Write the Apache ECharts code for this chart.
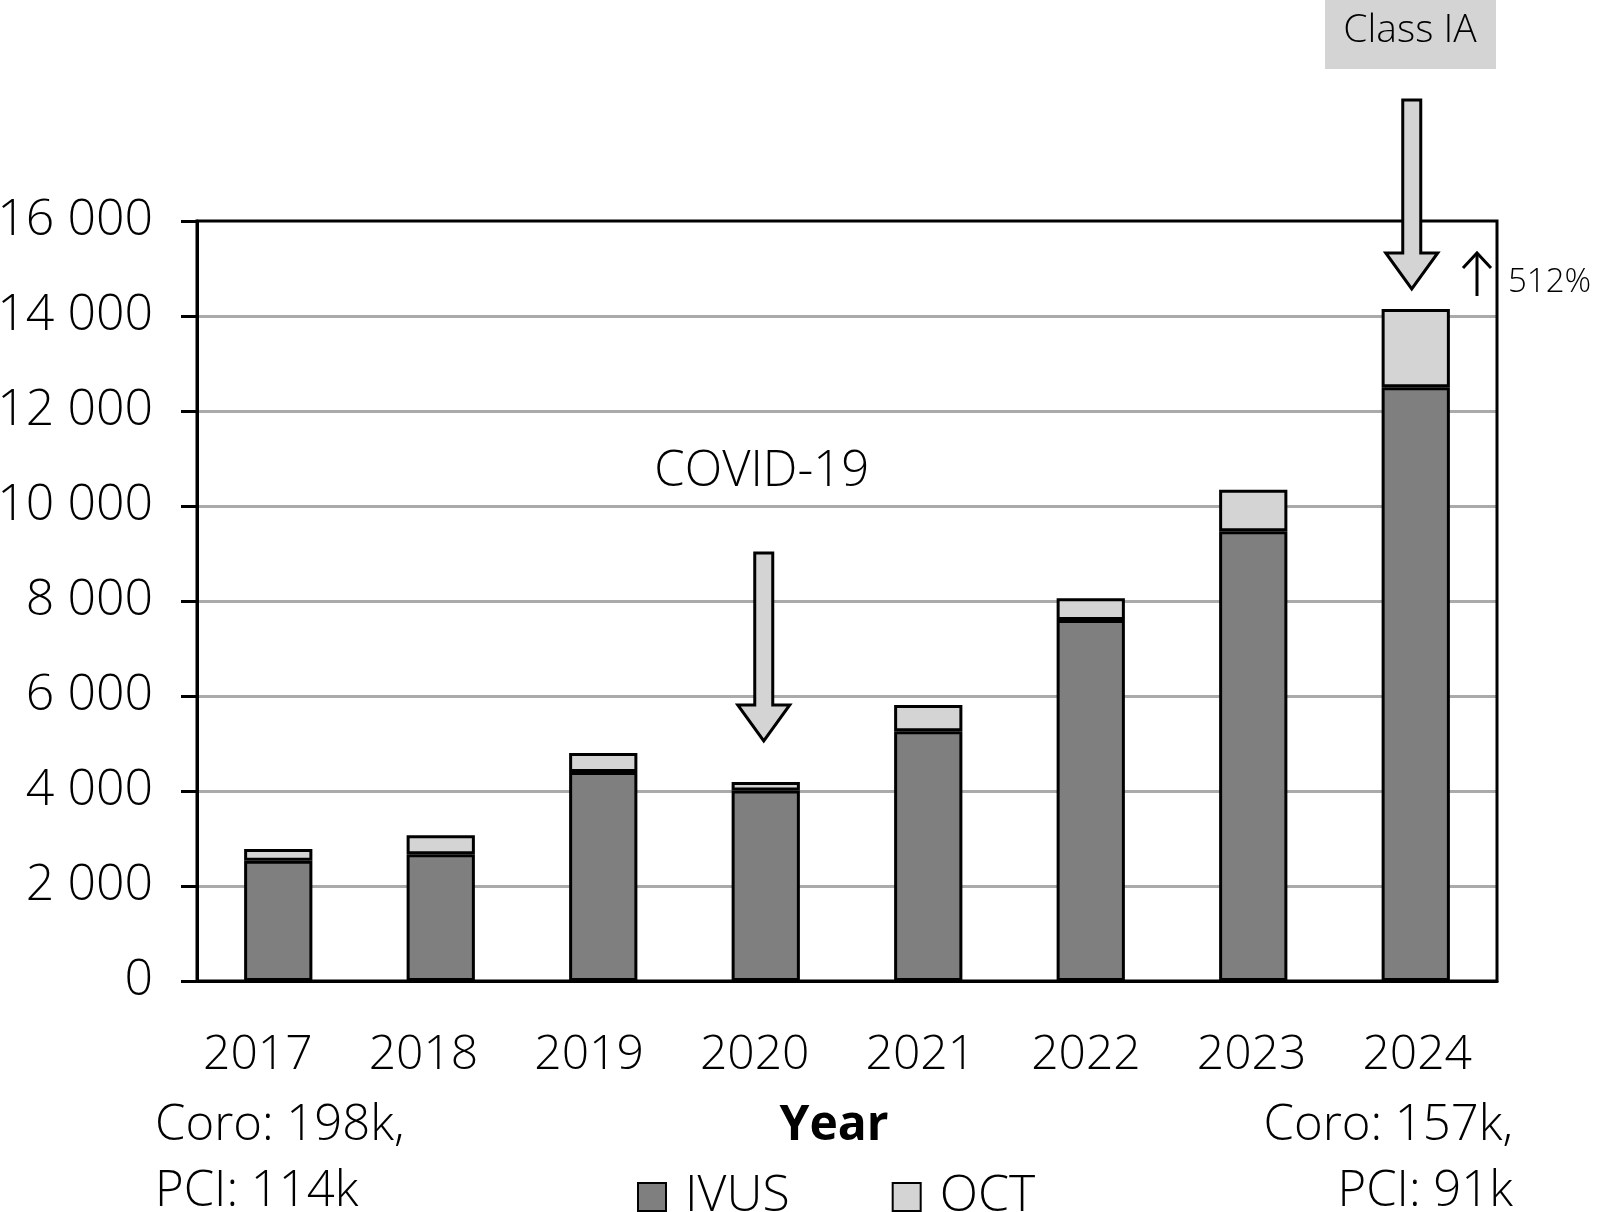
<!DOCTYPE html>
<html><head><meta charset="utf-8">
<script src="https://cdn.jsdelivr.net/npm/echarts@6/dist/echarts.min.js"></script>
<style>html,body{margin:0;padding:0;background:#fff}#c{width:1598px;height:1212px}</style>
</head><body><div id="c"></div>
<script>
const years = ['2017','2018','2019','2020','2021','2022','2023','2024'];
const ivus = [2530, 2670, 4400, 4010, 5260, 7600, 9470, 12500];
const oct = [250, 400, 400, 180, 550, 460, 870, 1650];
const yTicks = [0, 2000, 4000, 6000, 8000, 10000, 12000, 14000, 16000];
const FONT = 'Open Sans';
const chart = echarts.init(document.getElementById('c'));
const fmt = v => v >= 1000 ? Math.floor(v/1000) + ' ' + String(v % 1000).padStart(3,'0') : String(v);
const txt = {fontFamily: FONT, fontWeight: 300, color: '#000'};
chart.setOption({
  animation: false,
  grid: [
    {left: 197, right: 101, top: 221, bottom: 231, show: true, borderColor: '#000', borderWidth: 3, outerBoundsMode: 'none', containLabel: false, z: 3},
    {left: 175, right: 98, top: 221, bottom: 231, outerBoundsMode: 'none', containLabel: false}
  ],
  legend: {
    data: ['IVUS', 'OCT'], left: 632, top: 1167, itemWidth: 28, itemHeight: 28, itemGap: 102, icon: 'rect',
    textStyle: Object.assign({fontSize: 50, lineHeight: 50, padding: [0,0,0,14]}, txt)
  },
  xAxis: [{
    type: 'category', data: years, gridIndex: 0,
    axisLine: {lineStyle: {color: '#000', width: 3}},
    axisTick: {show: false},
    axisLabel: {show: false}
  }, {
    type: 'category', data: years, gridIndex: 1,
    axisLine: {show: false}, axisTick: {show: false}, splitLine: {show: false},
    axisLabel: Object.assign({fontSize: 48, margin: 50}, txt)
  }],
  yAxis: [{
    type: 'value', min: 0, max: 16000, interval: 2000, gridIndex: 0,
    axisLine: {show: true, lineStyle: {color: '#000', width: 3}},
    axisTick: {show: true, length: 16, lineStyle: {color: '#000', width: 3}},
    splitLine: {showMaxLine: false, lineStyle: {color: '#aaaaaa', width: 3}},
    axisLabel: Object.assign({fontSize: 50, margin: 44, formatter: fmt}, txt)
  }, {
    type: 'value', min: 0, max: 16000, gridIndex: 1, show: false
  }],
  series: [
    {name: 'IVUS', type: 'bar', stack: 'a', data: ivus, barWidth: '42%',
     itemStyle: {color: '#7f7f7f', borderColor: '#000', borderWidth: 3}},
    {name: 'OCT', type: 'bar', stack: 'a', data: oct, barWidth: '42%',
     itemStyle: {color: '#d4d4d4', borderColor: '#000', borderWidth: 3}}
  ]
});

function downArrow(cx, yTop, yTip, shaftW, headW, headH) {
  const s = shaftW/2, h = headW/2;
  return {type: 'polygon', shape: {points: [
    [cx - s, yTop], [cx + s, yTop], [cx + s, yTip - headH], [cx + h, yTip - headH],
    [cx, yTip], [cx - h, yTip - headH], [cx - s, yTip - headH]
  ]}, style: {fill: '#d4d4d4', stroke: '#000', lineWidth: 3}, z: 10};
}
const totals = ivus.map((v, i) => v + oct[i]);
const p2020 = chart.convertToPixel({seriesIndex: 0}, [3, totals[3]]);
const p2024 = chart.convertToPixel({seriesIndex: 0}, [7, totals[7]]);
const F = (w, s) => w + ' ' + s + 'px "Open Sans"';
chart.setOption({graphic: [
  downArrow(p2020[0] - 2, 553, 741, 18, 52, 36),
  {type: 'text', style: {x: p2020[0] - 4, y: 472, text: 'COVID-19', font: F(300, 49), fill: '#000', align: 'center', verticalAlign: 'middle'}},
  {type: 'rect', shape: {x: 1325, y: 0, width: 171, height: 69}, style: {fill: '#d4d4d4'}},
  {type: 'text', style: {x: 1410, y: 31, text: 'Class IA', font: F(300, 39), fill: '#000', align: 'center', verticalAlign: 'middle'}},
  downArrow(p2024[0] - 4, 100, 289, 18, 52, 36),
  {type: 'line', shape: {x1: 1477, y1: 254, x2: 1477, y2: 296}, style: {stroke: '#000', lineWidth: 3}},
  {type: 'polyline', shape: {points: [[1463, 268], [1477, 253], [1491, 268]]}, style: {stroke: '#000', lineWidth: 3, fill: null}},
  {type: 'text', style: {x: 1508, y: 283, text: '512%', font: F(300, 33), fill: '#000', verticalAlign: 'middle'}},
  {type: 'text', style: {x: 834, y: 1126, text: 'Year', font: F('bold', 48), fill: '#000', align: 'center', verticalAlign: 'middle'}},
  {type: 'text', style: {x: 155, y: 1126, text: 'Coro: 198k,', font: F(300, 49), fill: '#000', verticalAlign: 'middle'}},
  {type: 'text', style: {x: 155, y: 1192, text: 'PCI: 114k', font: F(300, 49), fill: '#000', verticalAlign: 'middle'}},
  {type: 'text', style: {x: 1513, y: 1126, text: 'Coro: 157k,', font: F(300, 49), fill: '#000', align: 'right', verticalAlign: 'middle'}},
  {type: 'text', style: {x: 1513, y: 1192, text: 'PCI: 91k', font: F(300, 49), fill: '#000', align: 'right', verticalAlign: 'middle'}}
]});
</script></body></html>
